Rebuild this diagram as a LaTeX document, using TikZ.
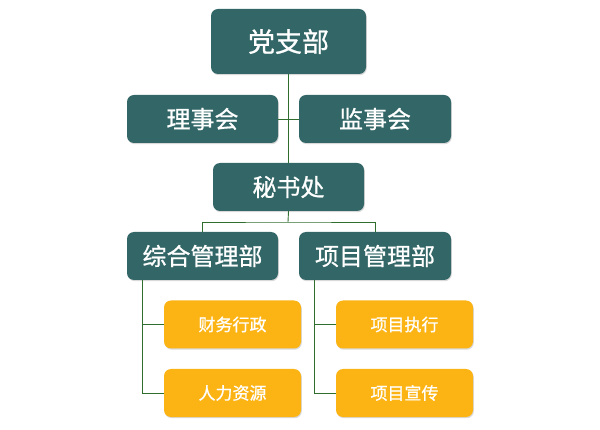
\documentclass[tikz,border=0pt]{standalone}
\usepackage{fontspec}
\newfontfamily\cjk[FakeBold=0.8]{Noto Sans CJK SC}
\usetikzlibrary{shadows}
\definecolor{teal}{HTML}{336666}
\definecolor{gold}{HTML}{FCB415}
\definecolor{linegreen}{HTML}{2F6E2F}
\begin{document}
\begin{tikzpicture}[x=1pt,y=-1pt,
  box/.style={rounded corners=7pt, inner sep=0pt, text=white, font=\cjk,
    drop shadow={shadow xshift=0.8pt, shadow yshift=-1.2pt, opacity=0.3}},
  tbox/.style={box, fill=teal},
  ybox/.style={box, fill=gold, minimum width=137pt, minimum height=48pt, font=\cjk\fontsize{17}{20}\selectfont},
  conn/.style={draw=linegreen, line width=0.9pt}]
\useasboundingbox (0,0) rectangle (600,430);
\node[tbox, minimum width=155pt, minimum height=65pt, font=\cjk\fontsize{27}{30}\selectfont] (party) at (288.5,41.5) {党支部};
\node[tbox, minimum width=151pt, minimum height=48pt, font=\cjk\fontsize{24}{28}\selectfont] (board) at (202.5,119) {理事会};
\node[tbox, minimum width=152pt, minimum height=48pt, font=\cjk\fontsize{24}{28}\selectfont] (super) at (375,119) {监事会};
\node[tbox, minimum width=151pt, minimum height=48pt, font=\cjk\fontsize{24}{28}\selectfont] (sec) at (288.5,187) {秘书处};
\node[tbox, minimum width=151pt, minimum height=48pt, font=\cjk\fontsize{24}{28}\selectfont] (gen) at (202.5,256) {综合管理部};
\node[tbox, minimum width=152pt, minimum height=48pt, font=\cjk\fontsize{24}{28}\selectfont] (proj) at (375,256) {项目管理部};
\node[ybox] (fin) at (232.5,324.5) {财务行政};
\node[ybox] (hr) at (232.5,393) {人力资源};
\node[ybox] (exe) at (404.5,324.5) {项目执行};
\node[ybox] (pub) at (404.5,393) {项目宣传};
\coordinate (bus) at (288,222);
\draw[conn] (party.south) -- (sec.north);
\draw[conn] (board.east) -- (super.west);
\draw[conn] (sec.south) -- (bus);
\draw[conn] (gen.north) |- (bus) -| (proj.north);
\draw[conn] ([xshift=-60.5pt]gen.south) |- (hr.west);
\draw[conn] ([xshift=-60.5pt]gen.south |- fin.west) -- (fin.west);
\draw[conn] ([xshift=-61pt]proj.south) |- (pub.west);
\draw[conn] ([xshift=-61pt]proj.south |- exe.west) -- (exe.west);
\end{tikzpicture}
\end{document}
